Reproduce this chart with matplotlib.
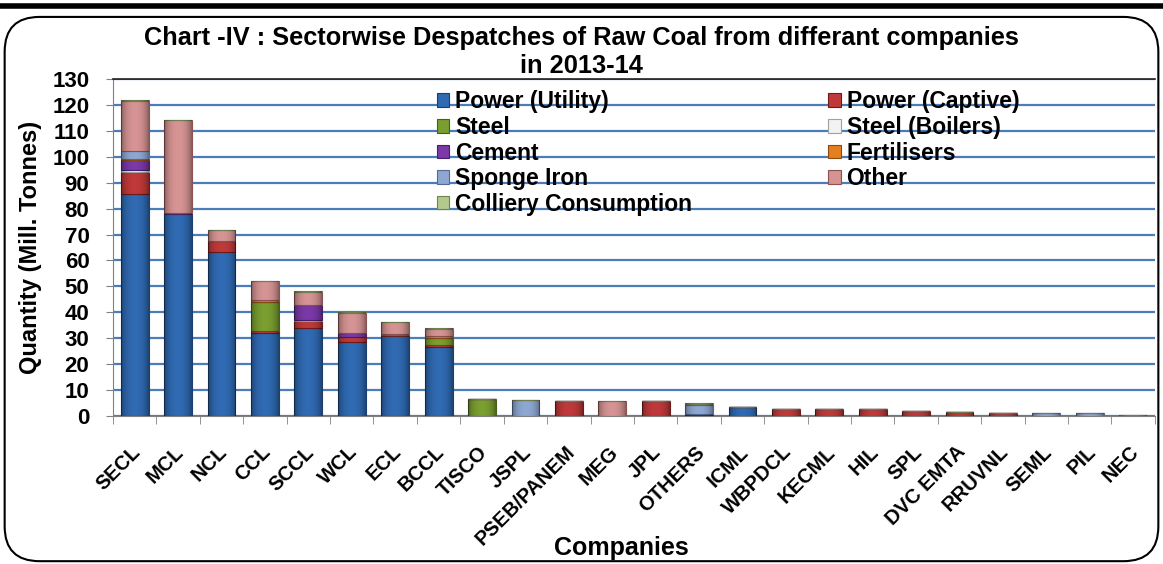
import matplotlib
matplotlib.use("Agg")
import matplotlib.pyplot as plt
import matplotlib.transforms as mtransforms
import numpy as np
from matplotlib.patches import FancyBboxPatch, Patch
from matplotlib.lines import Line2D

companies = ["SECL", "MCL", "NCL", "CCL", "SCCL", "WCL", "ECL", "BCCL", "TISCO", "JSPL",
             "PSEB/PANEM", "MEG", "JPL", "OTHERS", "ICML", "WBPDCL", "KECML", "HIL", "SPL",
             "DVC EMTA", "RRUVNL", "SEML", "PIL", "NEC"]

power_utility = [85.7, 77.9, 63.4, 31.9, 34.1, 28.7, 30.9, 26.8, 0, 0, 0, 0, 0, 0.3, 3.6, 0, 0, 0, 0, 0, 0, 0, 0, 0]
power_captive = [8.6, 0.2, 4.0, 1.0, 2.6, 1.7, 0.2, 0.6, 0, 0, 5.8, 0, 5.8, 0, 0, 2.7, 2.7, 2.7, 1.9, 1.5, 1.3, 0, 0, 0]
steel = [0, 0, 0, 11.0, 0, 0, 0, 2.8, 6.6, 0, 0, 0, 0, 0.2, 0, 0, 0, 0, 0, 0, 0, 0, 0, 0]
steel_boilers = [0.5, 0, 0, 0, 0.2, 0, 0, 0, 0, 0, 0, 0, 0, 0, 0, 0, 0, 0, 0, 0, 0, 0, 0, 0]
cement = [3.9, 0.3, 0, 0.2, 5.8, 1.8, 0, 0, 0, 0, 0, 0, 0, 0.2, 0, 0, 0, 0, 0, 0, 0, 0, 0, 0]
fertilisers = [0.5, 0, 0, 0.5, 0, 0, 0, 0.5, 0, 0, 0, 0, 0, 0, 0, 0, 0, 0, 0, 0, 0, 0, 0, 0]
sponge_iron = [3.0, 0, 0, 0.3, 0, 0, 0.5, 0, 0, 6.2, 0, 0, 0, 3.6, 0, 0, 0, 0, 0, 0, 0, 1.1, 1.1, 0]
other = [19.5, 35.6, 4.2, 7.0, 5.2, 7.5, 4.5, 3.0, 0, 0, 0, 5.8, 0, 0.4, 0, 0, 0, 0, 0, 0, 0, 0, 0, 0.5]
colliery = [0.3, 0.3, 0.3, 0.2, 0.3, 0.3, 0.3, 0.3, 0, 0, 0, 0, 0, 0.2, 0, 0, 0, 0, 0, 0, 0, 0, 0, 0]

series_names = ["Power (Utility)", "Power (Captive)", "Steel", "Steel (Boilers)", "Cement",
                "Fertilisers", "Sponge Iron", "Other", "Colliery Consumption"]
series_values = [power_utility, power_captive, steel, steel_boilers, cement,
                 fertilisers, sponge_iron, other, colliery]
series_colors = ["#2F6AB2", "#C0393A", "#7A9E30", "#F2F2F2", "#7A38A8",
                 "#E57E1E", "#8EA7D2", "#D59393", "#B2C88C"]
edge_colors = ["#1C3F6E", "#6E1A1A", "#46601A", "#A0A0A0", "#45206A",
               "#8A4A10", "#566A90", "#8A5252", "#718050"]

plt.rcParams["font.family"] = ["Liberation Sans", "DejaVu Sans"]
plt.rcParams["font.weight"] = "bold"

fig = plt.figure(figsize=(11.63, 5.64), dpi=100)
ax = fig.add_axes([0.0972, 0.2624, 0.8958, 0.5975])

x = np.arange(len(companies))
bottom = np.zeros(len(companies))
handles = []
grad = np.abs(np.linspace(-1, 1, 64)) ** 2.5
shade = np.zeros((1, 64, 4))
shade[..., 3] = 0.35 * grad
for name, vals, col, ec in zip(series_names, series_values, series_colors, edge_colors):
    v = np.array(vals, dtype=float)
    bars = ax.bar(x, v, width=0.64, bottom=bottom, color=col, edgecolor=ec, linewidth=0.8, zorder=3)
    for b in bars:
        if b.get_height() > 0:
            bx, by = b.get_x(), b.get_y()
            im = ax.imshow(shade, extent=(bx, bx + b.get_width(), by, by + b.get_height()),
                           aspect="auto", zorder=3.5, interpolation="bilinear")
            im.set_clip_path(b)
    bottom += v
    handles.append(Patch(facecolor=col, edgecolor=ec, linewidth=0.8))

ax.set_xlim(-0.5, len(companies) - 0.5)
ax.set_ylim(0, 130)
ax.set_yticks(np.arange(0, 131, 10))
ax.yaxis.grid(True, color="#4A7EBB", linewidth=1.6, zorder=0)
ax.set_axisbelow(True)
ax.tick_params(axis="y", labelsize=16, length=5, color="#808080", pad=12)
for lbl in ax.get_yticklabels():
    lbl.set_fontweight("bold")

ax.set_xticks(x)
ax.set_xticklabels(companies, rotation=45, ha="right", rotation_mode="anchor",
                   fontsize=14.5, fontweight="bold")
ax.tick_params(axis="x", which="major", length=0, pad=19)
offset = mtransforms.ScaledTranslation(-4 / 100, 0, fig.dpi_scale_trans)
for lbl in ax.get_xticklabels():
    lbl.set_transform(lbl.get_transform() + offset)
ax.set_xticks(np.arange(-0.5, len(companies), 1), minor=True)
ax.tick_params(axis="x", which="minor", length=6, color="#808080")

ax.spines["right"].set_visible(False)
ax.spines["top"].set_color("#202020")
ax.spines["top"].set_linewidth(1.2)
ax.spines["left"].set_color("#808080")
ax.spines["bottom"].set_color("#808080")

ax.set_ylabel("Quantity (Mill. Tonnes)", fontsize=17, fontweight="bold")
ax.set_xlabel("Companies", fontsize=18, fontweight="bold")
ax.xaxis.set_label_coords(0.488, -0.355)
ax.yaxis.set_label_coords(-0.068, 0.5)

order = [0, 2, 4, 6, 8, 1, 3, 5, 7]
leg = ax.legend([handles[i] for i in order], [series_names[i] for i in order],
                ncol=2, loc="upper left", bbox_to_anchor=(0.3105, 0.966), frameon=False,
                prop={"size": 16.5, "weight": "bold"}, handlelength=0.55, handleheight=0.55,
                handletextpad=0.25, labelspacing=0.11, columnspacing=5.95, borderaxespad=0,
                borderpad=0)

fig.text(0.5, 0.932, "Chart -IV : Sectorwise Despatches of Raw Coal from differant companies",
         ha="center", va="center", fontsize=18.3, fontweight="bold")
fig.text(0.5, 0.883, "in 2013-14", ha="center", va="center", fontsize=18.3, fontweight="bold")

# outer frame
fig.add_artist(Line2D([0, 1], [0.99, 0.99], transform=fig.transFigure, color="black", linewidth=4))
box = FancyBboxPatch((0.004, 0.005), 0.992, 0.965, boxstyle="round,pad=0,rounding_size=0.03",
                     transform=fig.transFigure, fill=False, edgecolor="black", linewidth=1.5,
                     mutation_aspect=2.06)
fig.add_artist(box)

fig.savefig("out.png", dpi=100)
